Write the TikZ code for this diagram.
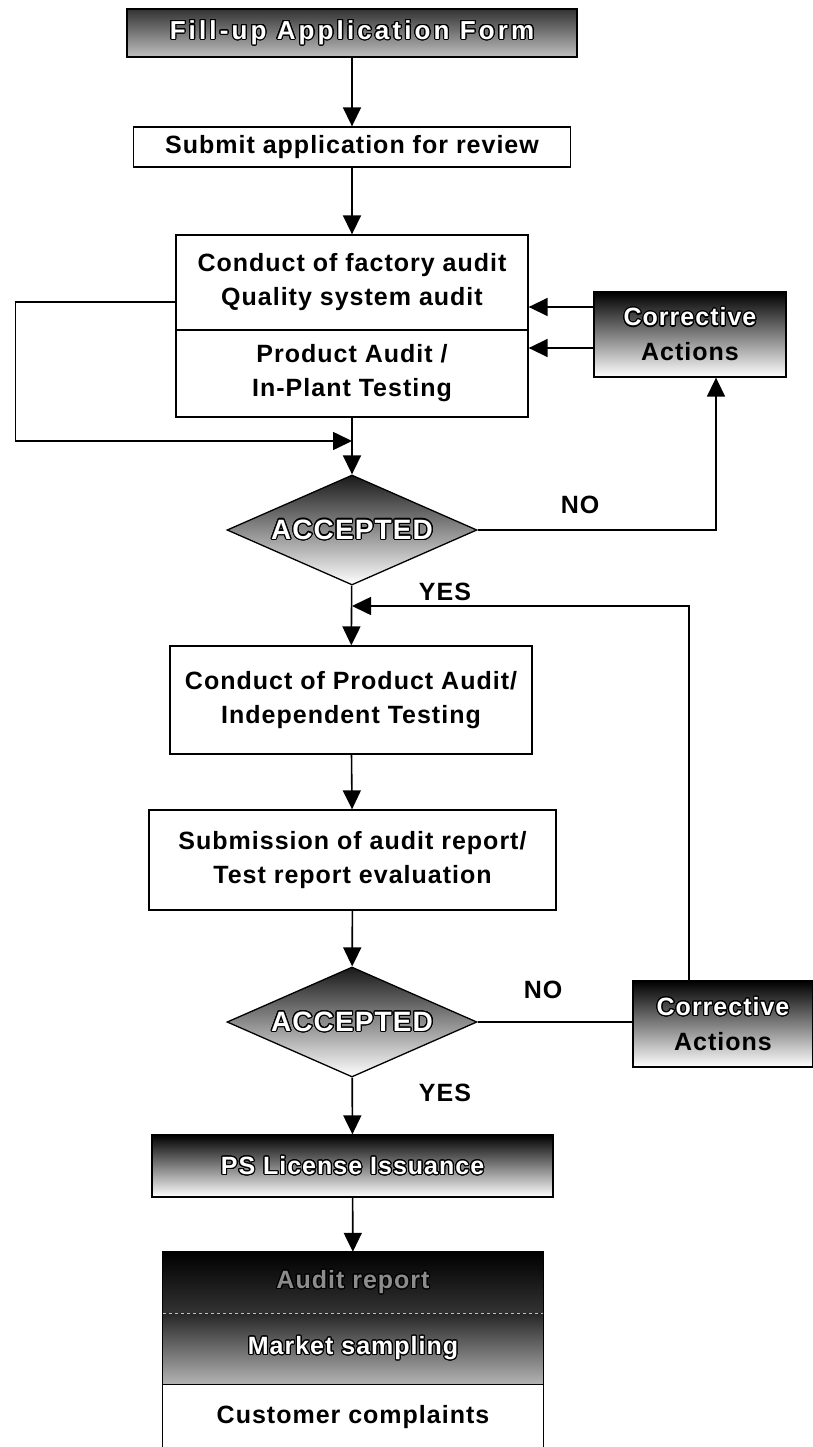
\documentclass[tikz,border=0pt]{standalone}
\usepackage{fontspec}
\setmainfont{Liberation Sans}
\newfontfamily\lbl[LetterSpace=4]{Liberation Sans}
\newfontfamily\wlbl[LetterSpace=12]{Liberation Sans}
\usepackage[copies]{contour}
\contourlength{1.1pt}
\contournumber{24}
\usetikzlibrary{shapes.geometric,arrows.meta}
\newcommand{\otext}[1]{\textcolor{white}{\contour{black}{#1}}}
\begin{document}
\begin{tikzpicture}[x=1pt,y=-1pt,
  box/.style={draw=black, line width=1.3pt, rectangle, inner sep=0pt, align=center,
    font=\lbl\bfseries\fontsize{25}{34}\selectfont},
  sbox/.style={rectangle, inner sep=0pt, align=center,
    font=\lbl\bfseries\fontsize{25}{34}\selectfont},
  dia/.style={draw, line width=1.3pt, diamond, inner sep=0pt, minimum width=250pt,
    minimum height=110pt, top color=black!90, bottom color=white,
    font=\lbl\bfseries\fontsize{28}{30}\selectfont},
  arr/.style={line width=1.6pt, -{Triangle[length=19pt,width=18pt]}},
  ln/.style={line width=1.6pt},
  lab/.style={font=\lbl\bfseries\fontsize{25}{30}\selectfont}
]
\useasboundingbox (0,0) rectangle (813,1447);

\node[box, minimum width=450pt, minimum height=48pt, top color=black!80, bottom color=black!25, font=\wlbl\bfseries\fontsize{26}{30}\selectfont] (fill) at (352,33) {\otext{Fill-up Application Form}};
\node[box, minimum width=437pt, minimum height=40pt] (submit) at (352,147) {Submit application for review};
\node[box, minimum width=352pt, minimum height=95pt] (fac) at (352,282.5) {Conduct of factory audit\\Quality system audit};
\node[box, minimum width=352pt, minimum height=87pt] (prod) at (352,373.5) {Product Audit /\\In-Plant Testing};
\node[box, minimum width=192pt, minimum height=85pt, top color=black, bottom color=white] (ca1) at (690,334.5) {\otext{Corrective}\\[1pt]Actions};

\draw[arr] (fill) -- (submit);
\draw[arr] (submit) -- (fac);

\node[dia] (d1) at (352,530) {\makebox[0pt]{\otext{ACCEPTED}}};
\draw[arr] (prod) -- (d1);

\coordinate (loopend) at (352,441);
\draw[arr] ([yshift=-19.5pt]fac.west) -- ++(-160,0) |- (loopend);

\coordinate (c1a) at ([yshift=27.5pt]ca1.west);
\coordinate (c1b) at ([yshift=-13.5pt]ca1.west);
\draw[arr] (c1a) -- (c1a -| fac.east);
\draw[arr] (c1b) -- (c1b -| prod.east);

\draw[arr] (d1.east) -| ([xshift=26pt]ca1.south);
\node[lab] (no1) at (580,505) {NO};
\node[lab] (yes1) at (445,592) {YES};

\node[box, minimum width=362pt, minimum height=108pt] (pa) at (351,700) {Conduct of Product Audit/\\Independent Testing};
\draw[arr] (d1) -- (pa);

\node[box, minimum width=407pt, minimum height=100pt] (sub) at (352.5,860) {Submission of audit report/\\Test report evaluation};
\draw[arr] (pa) -- (sub);

\node[dia] (d2) at (352,1022) {\makebox[0pt]{\otext{ACCEPTED}}};
\draw[arr] (sub) -- (d2);

\node[box, minimum width=180pt, minimum height=86pt, top color=black, bottom color=white] (ca2) at (723,1024) {\otext{Corrective}\\[1pt]Actions};
\draw[ln] (d2.east) -- (d2.east -| ca2.west);
\node[lab] (no2) at (543,990) {NO};

\coordinate (fbend) at (352,606);
\draw[arr] ([xshift=-34pt]ca2.north) |- (fbend);

\node[lab] (yes2) at (445,1093) {YES};
\node[box, minimum width=401pt, minimum height=62pt, top color=black, bottom color=white] (ps) at (352.5,1166) {\otext{PS License Issuance}};
\draw[arr] (d2) -- (ps);

\node[sbox, minimum width=380pt, minimum height=61pt, top color=black, bottom color=black!80] (ar) at (353,1282.5) {\textcolor{black!45}{\contour{black}{Audit report}}};
\node[sbox, minimum width=380pt, minimum height=71pt, top color=black!85, bottom color=black!30] (ms) at (353,1348.5) {\otext{Market sampling}};
\node[sbox, minimum width=380pt, minimum height=66pt, fill=white] (cc) at (353,1417) {Customer complaints};
\draw[line width=1.3pt] (ar.north west) rectangle (cc.south east);
\draw[line width=1.3pt] (ms.south west) -- (ms.south east);
\draw[white!75!black, dashed] (ar.south west) -- (ar.south east);
\draw[arr] (ps) -- (ar);
\end{tikzpicture}
\end{document}
